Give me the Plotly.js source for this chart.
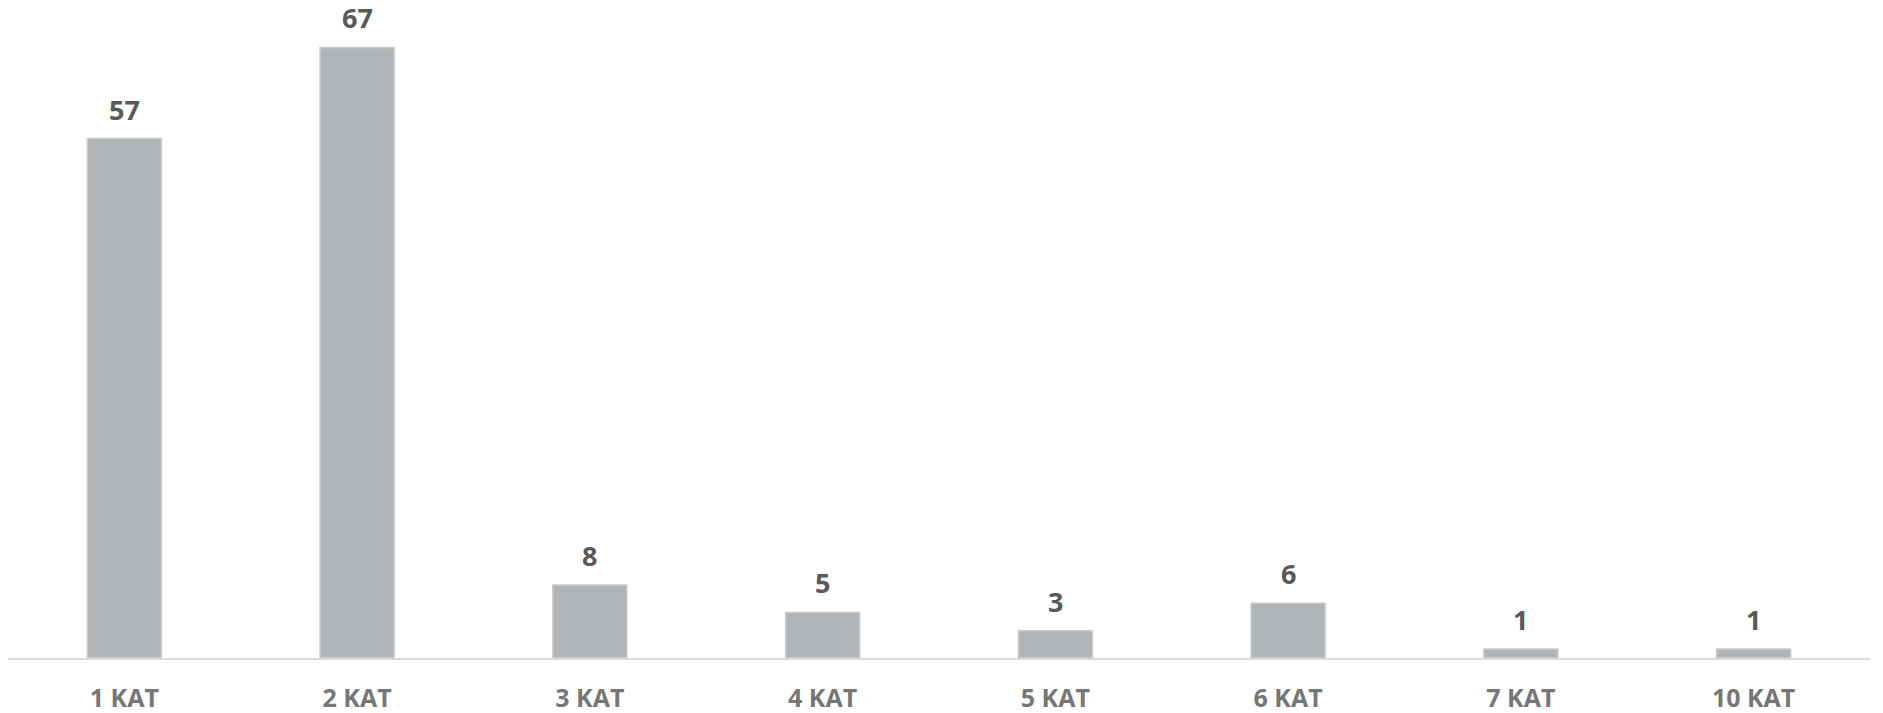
<!DOCTYPE html>
<html>
<head>
<meta charset="utf-8">
<script src="https://cdn.plot.ly/plotly-3.0.1.min.js"></script>
<style>html,body{margin:0;padding:0;background:#fff;}#chart{width:1883px;height:713px;}</style>
</head>
<body>
<div id="chart"></div>
<script>
const categories = ["1 KAT", "2 KAT", "3 KAT", "4 KAT", "5 KAT", "6 KAT", "7 KAT", "10 KAT"];
const values = [57, 67, 8, 5, 3, 6, 1, 1];

const trace = {
  type: "bar",
  x: categories,
  y: values,
  marker: { color: "#b1b4b6", line: { color: "#c9cacb", width: 1.5 } },
  hoverinfo: "none"
};

const annotations = categories.map((c, i) => ({
  x: c, y: values[i], xref: "x", yref: "y",
  text: String(values[i]), showarrow: false,
  yanchor: "bottom", yshift: 10, borderpad: 0,
  font: { family: "'Open Sans', sans-serif", size: 27, weight: 700, color: "#595959" }
}));

const layout = {
  width: 1883, height: 713,
  margin: { l: 8, r: 13, t: 0, b: 55 },
  paper_bgcolor: "#ffffff", plot_bgcolor: "#ffffff",
  bargap: 0.682,
  showlegend: false,
  xaxis: {
    type: "category",
    showline: true, linecolor: "#d9d9d9", linewidth: 2,
    showgrid: false, zeroline: false,
    ticks: "outside", ticklen: 17, tickcolor: "rgba(0,0,0,0)",
    tickfont: { family: "'Open Sans', sans-serif", size: 25, weight: 700, color: "#767676" },
    fixedrange: true
  },
  yaxis: {
    range: [0, 72.2],
    visible: false, showgrid: false, zeroline: false, fixedrange: true
  },
  annotations: annotations
};

Plotly.newPlot("chart", [trace], layout, { displayModeBar: false, staticPlot: true });
</script>
</body>
</html>
